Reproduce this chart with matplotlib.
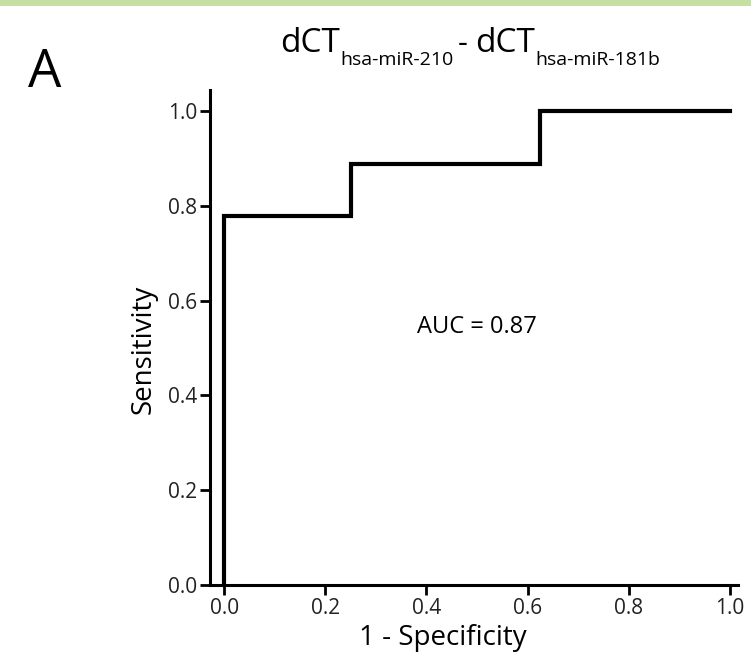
import matplotlib
matplotlib.use("Agg")
import matplotlib.pyplot as plt
from matplotlib.patches import Rectangle

plt.rcParams['font.family'] = ['Open Sans', 'DejaVu Sans']

fpr = [0.0, 0.0, 0.25, 0.25, 0.625, 0.625, 1.0]
tpr = [0.0, 7/9, 7/9, 8/9, 8/9, 1.0, 1.0]
xticks = [0.0, 0.2, 0.4, 0.6, 0.8, 1.0]
yticks = [0.0, 0.2, 0.4, 0.6, 0.8, 1.0]
auc_text = "AUC = 0.87"
panel = "A"
title_main = "dCT"
title_sub1 = "hsa-miR-210"
title_sub2 = "hsa-miR-181b"

W, H = 751, 663
fig = plt.figure(figsize=(W / 100, H / 100), dpi=100)
fig.patches.append(Rectangle((0, 1 - 6/H), 1, 6/H, transform=fig.transFigure,
                             facecolor='#c6e0a4', edgecolor='none'))
ax = fig.add_axes([210/W, 78/H, 528/W, 495/H])
ax.plot(fpr, tpr, color='black', lw=3.0, solid_joinstyle='miter')
ax.set_xlim(-0.028, 1.016)
ax.set_ylim(0, 1.044)
ax.set_xticks(xticks)
ax.set_yticks(yticks)
ax.set_xticklabels([f"{v:.1f}" for v in xticks])
ax.set_yticklabels([f"{v:.1f}" for v in yticks])
for s in ['top', 'right']:
    ax.spines[s].set_visible(False)
for s in ['left', 'bottom']:
    ax.spines[s].set_linewidth(2.2)
ax.tick_params(direction='out', length=7, width=2, labelsize=15, colors='black',
               labelcolor='#222222', pad=2)
ax.set_xlabel("1 - Specificity", fontsize=20, labelpad=4)
ax.set_ylabel("Sensitivity", fontsize=20, labelpad=8)
ax.xaxis.label.set_x(0.44)
ax.yaxis.label.set_y(0.475)
ax.text(0.5, 0.544, auc_text, fontsize=17, ha='center', va='center')

# Title built from pieces: dCT_sub1 - dCT_sub2
yb_main = 1 - 52 / H
yb_sub = 1 - 65 / H
t1 = fig.text(280 / W, yb_main, title_main, fontsize=24, ha='left', va='baseline')
t2 = plt.annotate(title_sub1, xy=(1, yb_sub), xycoords=(t1, 'figure fraction'),
                  xytext=(0, 0), textcoords='offset points', fontsize=14,
                  ha='left', va='baseline', annotation_clip=False)
t3 = plt.annotate("-", xy=(1, yb_main), xycoords=(t2, 'figure fraction'),
                  xytext=(3, 0), textcoords='offset points', fontsize=22,
                  ha='left', va='baseline', annotation_clip=False)
t4 = plt.annotate(title_main, xy=(1, yb_main), xycoords=(t3, 'figure fraction'),
                  xytext=(6, 0), textcoords='offset points', fontsize=24,
                  ha='left', va='baseline', annotation_clip=False)
t5 = plt.annotate(title_sub2, xy=(1, yb_sub), xycoords=(t4, 'figure fraction'),
                  xytext=(0, 0), textcoords='offset points', fontsize=14,
                  ha='left', va='baseline', annotation_clip=False)

fig.text(45 / W, 1 - 73 / H, panel, fontsize=38, ha='center', va='center')
fig.savefig("out.png", dpi=100)
